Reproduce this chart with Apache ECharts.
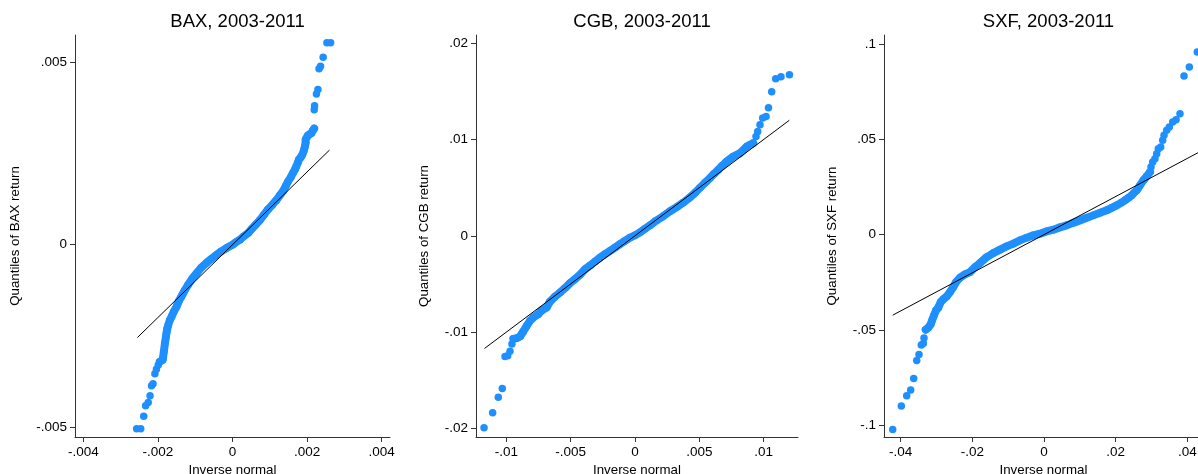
<!DOCTYPE html>
<html>
<head>
<meta charset="utf-8">
<script src="https://cdn.jsdelivr.net/npm/echarts@6/dist/echarts.min.js"></script>
<style>
  html, body { margin: 0; background: #fff; }
  #chart { width: 1198px; height: 474px; }
</style>
</head>
<body>
<div id="chart"></div>
<script>
// quantile pairs: [inverse normal, quantile of return]
const baxPoints = [
  [-0.00257,-0.00505],[-0.00246,-0.00505],[-0.00238,-0.00471],[-0.00233,-0.00442],[-0.00226,-0.00433],
  [-0.00221,-0.00415],[-0.00217,-0.00387],[-0.00213,-0.00382],[-0.00208,-0.00354],[-0.00204,-0.00342],
  [-0.00199,-0.00330],[-0.00195,-0.00321],[-0.00187,-0.00316],[-0.00184,-0.00293],[-0.00181,-0.00270],
  [-0.00179,-0.00256],[-0.00177,-0.00243],[-0.00175,-0.00231],[-0.00172,-0.00220],[-0.00168,-0.00207],
  [-0.00163,-0.00197],[-0.00157,-0.00183],[-0.00150,-0.00170],[-0.00144,-0.00155],[-0.00137,-0.00142],
  [-0.00128,-0.00125],[-0.00119,-0.00110],[-0.00108,-0.00093],[-0.00096,-0.00078],[-0.00084,-0.00063],
  [-0.00070,-0.00050],[-0.00057,-0.00039],[-0.00043,-0.00028],[-0.00030,-0.00018],[-0.00016,-0.00009],
  [0,0],[0.00009,0.00007],[0.00020,0.00014],[0.00030,0.00023],[0.00042,0.00032],
  [0.00052,0.00044],[0.00062,0.00055],[0.00073,0.00067],[0.00084,0.00082],[0.00095,0.00097],
  [0.00107,0.00110],[0.00118,0.00123],[0.00127,0.00136],[0.00136,0.00148],[0.00143,0.00162],
  [0.00149,0.00174],[0.00156,0.00185],[0.00162,0.00197],[0.00167,0.00206],[0.00171,0.00215],
  [0.00175,0.00225],[0.00178,0.00234],[0.00183,0.00240],[0.00187,0.00247],[0.00191,0.00258],
  [0.00194,0.00270],[0.00196,0.00280],[0.00196,0.00289],[0.00202,0.00300],[0.00207,0.00304],
  [0.00212,0.00307],[0.00215,0.00313],[0.00219,0.00319],[0.00219,0.00371],[0.00220,0.00382],
  [0.00225,0.00414],[0.00229,0.00426],[0.00232,0.00483],[0.00236,0.00490],[0.00243,0.00515],
  [0.00253,0.00555],[0.00263,0.00555]
];
const cgbPoints = [
  [-0.01174,-0.01995],[-0.01107,-0.01839],[-0.01063,-0.01676],[-0.01032,-0.01587],[-0.01011,-0.01254],
  [-0.00990,-0.01247],[-0.00972,-0.01198],[-0.00957,-0.01125],[-0.00946,-0.01070],[-0.00920,-0.01063],
  [-0.00894,-0.01046],[-0.00869,-0.00994],[-0.00842,-0.00935],[-0.00817,-0.00883],[-0.00791,-0.00849],
  [-0.00752,-0.00814],[-0.00726,-0.00776],[-0.00687,-0.00745],[-0.00661,-0.00683],[-0.00622,-0.00631],
  [-0.00583,-0.00589],[-0.00544,-0.00543],[-0.00505,-0.00491],[-0.00467,-0.00450],[-0.00428,-0.00405],
  [-0.00389,-0.00348],[-0.00350,-0.00309],[-0.00311,-0.00267],[-0.00272,-0.00226],[-0.00233,-0.00190],
  [-0.00194,-0.00156],[-0.00156,-0.00122],[-0.00117,-0.00086],[-0.00078,-0.00052],[-0.00039,-0.00018],
  [0,0.00005],[0.00039,0.00036],[0.00078,0.00073],[0.00117,0.00109],[0.00163,0.00156],
  [0.00218,0.00203],[0.00272,0.00255],[0.00327,0.00301],[0.00373,0.00343],[0.00428,0.00400],
  [0.00467,0.00447],[0.00505,0.00499],[0.00544,0.00551],[0.00583,0.00600],[0.00614,0.00644],
  [0.00648,0.00686],[0.00677,0.00727],[0.00713,0.00772],[0.00764,0.00824],[0.00817,0.00859],
  [0.00869,0.00928],[0.00894,0.00946],[0.00920,0.00963],[0.00941,0.01032],[0.00954,0.01084],
  [0.00972,0.01153],[0.00993,0.01223],[0.01019,0.01240],[0.01038,0.01330],[0.01063,0.01496],
  [0.01094,0.01631],[0.01135,0.01652],[0.01201,0.01673]
];
const sxfPoints = [
  [-0.04222,-0.10211],[-0.03982,-0.08989],[-0.03831,-0.08444],[-0.03720,-0.08150],[-0.03636,-0.07537],
  [-0.03552,-0.06593],[-0.03488,-0.06278],[-0.03424,-0.05790],[-0.03368,-0.05701],[-0.03349,-0.05423],
  [-0.03301,-0.04982],[-0.03229,-0.04878],[-0.03162,-0.04704],[-0.03117,-0.04458],[-0.03070,-0.04232],
  [-0.03014,-0.03970],[-0.02950,-0.03829],[-0.02883,-0.03535],[-0.02810,-0.03393],[-0.02715,-0.03236],
  [-0.02623,-0.03010],[-0.02531,-0.02748],[-0.02456,-0.02486],[-0.02344,-0.02255],[-0.02205,-0.02082],
  [-0.02065,-0.01962],[-0.01925,-0.01699],[-0.01786,-0.01489],[-0.01599,-0.01175],[-0.01415,-0.00965],
  [-0.01228,-0.00787],[-0.01041,-0.00614],[-0.00857,-0.00472],[-0.00670,-0.00299],[-0.00483,-0.00157],
  [-0.00299,-0.00037],[-0.00112,0.00052],[0.00075,0.00173],[0.00260,0.00262],[0.00446,0.00383],
  [0.00633,0.00488],[0.00809,0.00619],[0.01005,0.00750],[0.01192,0.00881],[0.01376,0.01012],
  [0.01563,0.01143],[0.01750,0.01274],[0.01889,0.01406],[0.02029,0.01537],[0.02149,0.01668],
  [0.02260,0.01799],[0.02358,0.01930],[0.02447,0.02061],[0.02511,0.02192],[0.02587,0.02323],
  [0.02679,0.02586],[0.02771,0.02848],[0.02866,0.03058],[0.02958,0.03283],[0.02986,0.03545],
  [0.03033,0.03808],[0.03097,0.03986],[0.03145,0.04248],[0.03190,0.04510],[0.03257,0.04594],
  [0.03312,0.04946],[0.03349,0.05208],[0.03424,0.05470],[0.03497,0.05643],[0.03591,0.05906],
  [0.03684,0.06031],[0.03795,0.06346],[0.03907,0.08318],[0.04055,0.08790],[0.04278,0.09577]
];

// reference lines (y = x across the data range)
const baxLine = [[-0.00255,-0.00255],[0.0026,0.0026]];
const cgbLine = [[-0.0117,-0.0117],[0.0120,0.0120]];
const sxfLine = [[-0.0422,-0.0422],[0.0440,0.0440]];

// where the dots pile up into a solid band (y range)
const baxBand = [-0.00322, 0.00320];
const cgbBand = [-0.0107, 0.0097];
const sxfBand = [-0.0499, 0.0330];

// tick values
const baxXTicks = [-0.004, -0.002, 0, 0.002, 0.004];
const baxYTicks = [-0.005, 0, 0.005];
const cgbXTicks = [-0.01, -0.005, 0, 0.005, 0.01];
const cgbYTicks = [-0.02, -0.01, 0, 0.01, 0.02];
const sxfXTicks = [-0.04, -0.02, 0, 0.02, 0.04];
const sxfYTicks = [-0.1, -0.05, 0, 0.05, 0.1];

const titles = ['BAX, 2003-2011', 'CGB, 2003-2011', 'SXF, 2003-2011'];
const yNames = ['Quantiles of BAX return', 'Quantiles of CGB return', 'Quantiles of SXF return'];
const xName = 'Inverse normal';

const panels = [
  { pts: baxPoints, line: baxLine, band: baxBand, xt: baxXTicks, yt: baxYTicks,
    x: [-0.004222, 0.004222], y: [-0.00528, 0.00576], left: 75, width: 315, gap: 53 },
  { pts: cgbPoints, line: cgbLine, band: cgbBand, xt: cgbXTicks, yt: cgbYTicks,
    x: [-0.012364, 0.012675], y: [-0.0209, 0.02086], left: 476, width: 322, gap: 45 },
  { pts: sxfPoints, line: sxfLine, band: sxfBand, xt: sxfXTicks, yt: sxfYTicks,
    x: [-0.04465, 0.04437], y: [-0.1061, 0.1047], left: 884, width: 319, gap: 45 }
];

const FONT = '"Liberation Sans", Arial, sans-serif';
const BLUE = '#1e8fff';
const stata = v => String(+v.toFixed(6)).replace(/^(-?)0\./, '$1.');

const axisCommon = {
  axisLine: { show: true, onZero: false, lineStyle: { color: '#333', width: 1 } },
  axisTick: { show: true, length: 5, lineStyle: { color: '#333' } },
  splitLine: { show: false },
  nameTextStyle: { fontFamily: FONT, fontSize: 13.3, color: '#000' }
};

const option = {
  animation: false,
  backgroundColor: '#fff',
  title: panels.map((p, i) => ({
    text: titles[i],
    left: p.left + p.width / 2,
    top: 7,
    textAlign: 'center',
    textStyle: { fontFamily: FONT, fontSize: 18.5, fontWeight: 'normal', color: '#000' }
  })),
  grid: panels.map(p => ({
    left: p.left, width: p.width, top: 35, height: 402, outerBoundsMode: 'none'
  })),
  xAxis: panels.map((p, i) => Object.assign({}, axisCommon, {
    type: 'value', gridIndex: i, min: p.x[0], max: p.x[1], position: 'bottom',
    name: xName, nameLocation: 'middle', nameGap: 26,
    axisTick: Object.assign({}, axisCommon.axisTick, { customValues: p.xt }),
    axisLabel: { customValues: p.xt, formatter: stata, margin: 8,
      fontFamily: FONT, fontSize: 13.5, color: '#000' }
  })),
  yAxis: panels.map((p, i) => Object.assign({}, axisCommon, {
    type: 'value', gridIndex: i, min: p.y[0], max: p.y[1], position: 'left',
    name: yNames[i], nameLocation: 'middle', nameGap: p.gap, nameRotate: 90,
    axisTick: Object.assign({}, axisCommon.axisTick, { customValues: p.yt }),
    axisLabel: { customValues: p.yt, formatter: stata, margin: 8,
      fontFamily: FONT, fontSize: 13.5, color: '#000' }
  })),
  series: []
};

panels.forEach((p, i) => {
  // solid band where the dots overlap
  option.series.push({
    type: 'line', xAxisIndex: i, yAxisIndex: i, silent: true,
    data: p.pts.filter(d => d[1] >= p.band[0] && d[1] <= p.band[1]),
    showSymbol: false, smooth: false,
    lineStyle: { color: BLUE, width: 8, cap: 'round', join: 'round' }
  });
  option.series.push({
    type: 'scatter', xAxisIndex: i, yAxisIndex: i, silent: true,
    data: p.pts, symbol: 'circle', symbolSize: 7.5,
    itemStyle: { color: BLUE, opacity: 1 }
  });
  option.series.push({
    type: 'line', xAxisIndex: i, yAxisIndex: i, silent: true,
    data: p.line, showSymbol: false,
    lineStyle: { color: '#000', width: 1 }
  });
});

const chart = echarts.init(document.getElementById('chart'));
chart.setOption(option);
</script>
</body>
</html>
